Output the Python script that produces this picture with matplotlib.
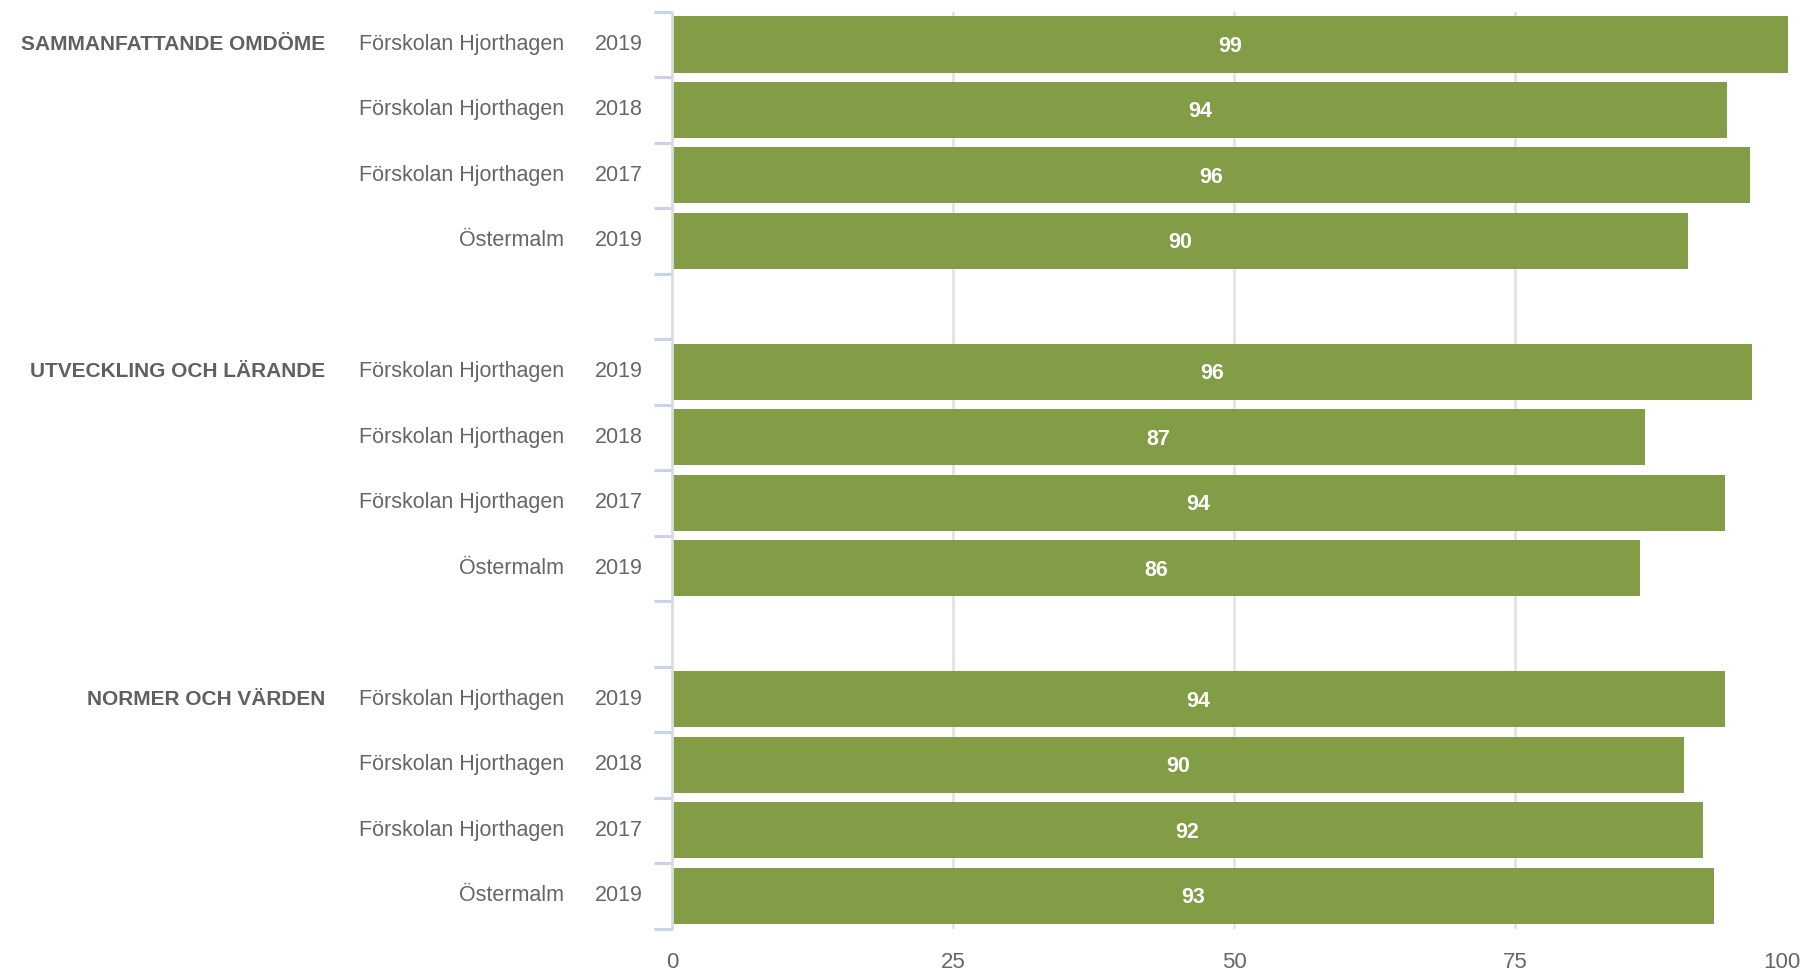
import matplotlib.pyplot as plt
from matplotlib.transforms import ScaledTranslation

plt.rcParams['font.family'] = ['Liberation Sans', 'DejaVu Sans']

# groups and rows
groups = ["SAMMANFATTANDE OMDÖME", "UTVECKLING OCH LÄRANDE", "NORMER OCH VÄRDEN"]
units = ["Förskolan Hjorthagen", "Förskolan Hjorthagen", "Förskolan Hjorthagen", "Östermalm"]
years = ["2019", "2018", "2017", "2019"]

# values per group
sammanfattande = [99.3, 93.9, 95.9, 90.4]
utveckling = [96.1, 86.6, 93.7, 86.1]
normer = [93.7, 90.0, 91.7, 92.7]
values = [sammanfattande, utveckling, normer]

xticks = [0, 25, 50, 75, 100]

bar_color = "#829d45"
text_color = "#666666"

fig = plt.figure(figsize=(18.13, 9.72), dpi=100)
ax = fig.add_axes([672 / 1813, 1 - 928.5 / 972, 1124 / 1813, (928.5 - 11.6) / 972])

n_rows = len(units)
slots = len(groups) * (n_rows + 1) - 1
tr = ax.get_yaxis_transform()

for g, (grp, vals) in enumerate(zip(groups, values)):
    for r, v in enumerate(vals):
        y = g * (n_rows + 1) + r + 0.5
        ax.barh(y, v, height=0.86, color=bar_color, zorder=2)
        ax.text(v / 2, y + 0.03, f"{round(v)}", ha="center", va="center",
                color="white", fontsize=15.5, fontweight="bold", zorder=3)
        ax.text(-0.0961, y, units[r], transform=tr, ha="right", va="center",
                color=text_color, fontsize=15.5)
        ax.text(-0.0258, y, years[r], transform=tr, ha="right", va="center",
                color=text_color, fontsize=15.5)
        if r == 0:
            ax.text(-0.3087, y, grp, transform=tr, ha="right", va="center",
                    color="#606060", fontsize=15, fontweight="bold")

# vertical grid lines behind bars
for x in [25, 50, 75]:
    ax.axvline(x, color="#e3e3e3", linewidth=2, zorder=0)

ax.set_xlim(0, 100)
ax.set_ylim(slots, 0)
ax.set_xticks(xticks)
ax.set_xticklabels([str(t) for t in xticks], fontsize=16, color=text_color)
ax.tick_params(axis="x", length=0, pad=17)
# last label sits a little inside the right edge
last = ax.get_xticklabels()[-1]
last.set_transform(last.get_transform() + ScaledTranslation(-0.14, 0, fig.dpi_scale_trans))

# category boundary ticks
ax.set_yticks(range(slots + 1))
ax.set_yticklabels([])
ax.tick_params(axis="y", length=13, width=2.2, color="#c8d2e8")

for s in ["top", "right", "bottom"]:
    ax.spines[s].set_visible(False)
ax.spines["left"].set_color("#dcdcdc")
ax.spines["left"].set_linewidth(2)

plt.savefig("out.png", dpi=100)
